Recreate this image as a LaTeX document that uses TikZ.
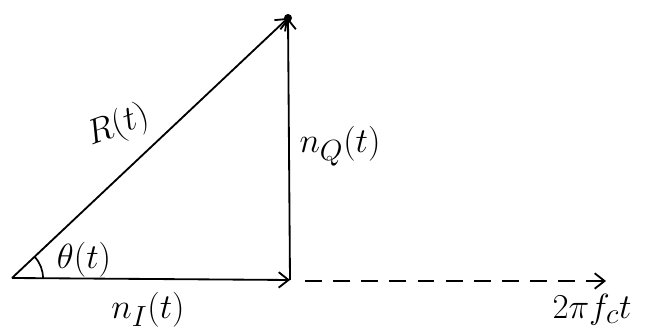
\documentclass[tikz,border=0pt]{standalone}
\usetikzlibrary{arrows.meta}

\begin{document}
\begin{tikzpicture}[x=0.025cm, y=0.025cm, >={Straight Barb[length=7pt,width=11pt]},
    every node/.style={font=\Huge},
    vec/.style={line width=1.3pt, ->}]

    % --- 1. bounding box ---
    \useasboundingbox (0,0) rectangle (651,334);

    % --- 2. corners of the triangle ---
    \coordinate (O) at (12, 56);
    \coordinate (P) at (290, 54);
    \coordinate (T) at (288, 316);
    \coordinate (DS) at (305, 53);
    \coordinate (DE) at (606, 53);

    % --- 3. vectors ---
    \draw[vec] (O) -- (P);
    \draw[vec] (P) -- (T);
    \draw[vec] (O) -- (T);
    \fill (T) circle (4);

    % carrier axis (dashed)
    \draw[line width=1.3pt, dash pattern=on 12pt off 8pt, ->] (DS) -- (DE);

    % --- 4. angle arc ---
    \draw[line width=1.2pt] (O) ++(43:31) arc (43:0:31);

    % --- 5. labels ---
    \node (lR)  at (118, 208) [rotate=20] {$R(t)$};
    \node (lQ)  at (340, 188) {$n_Q(t)$};
    \node (lTh) at (84, 74)   {$\theta(t)$};
    \node (lI)  at (148, 24)  {$n_I(t)$};
    \node (lC)  at (592, 24)  {$2\pi f_c t$};

\end{tikzpicture}
\end{document}
